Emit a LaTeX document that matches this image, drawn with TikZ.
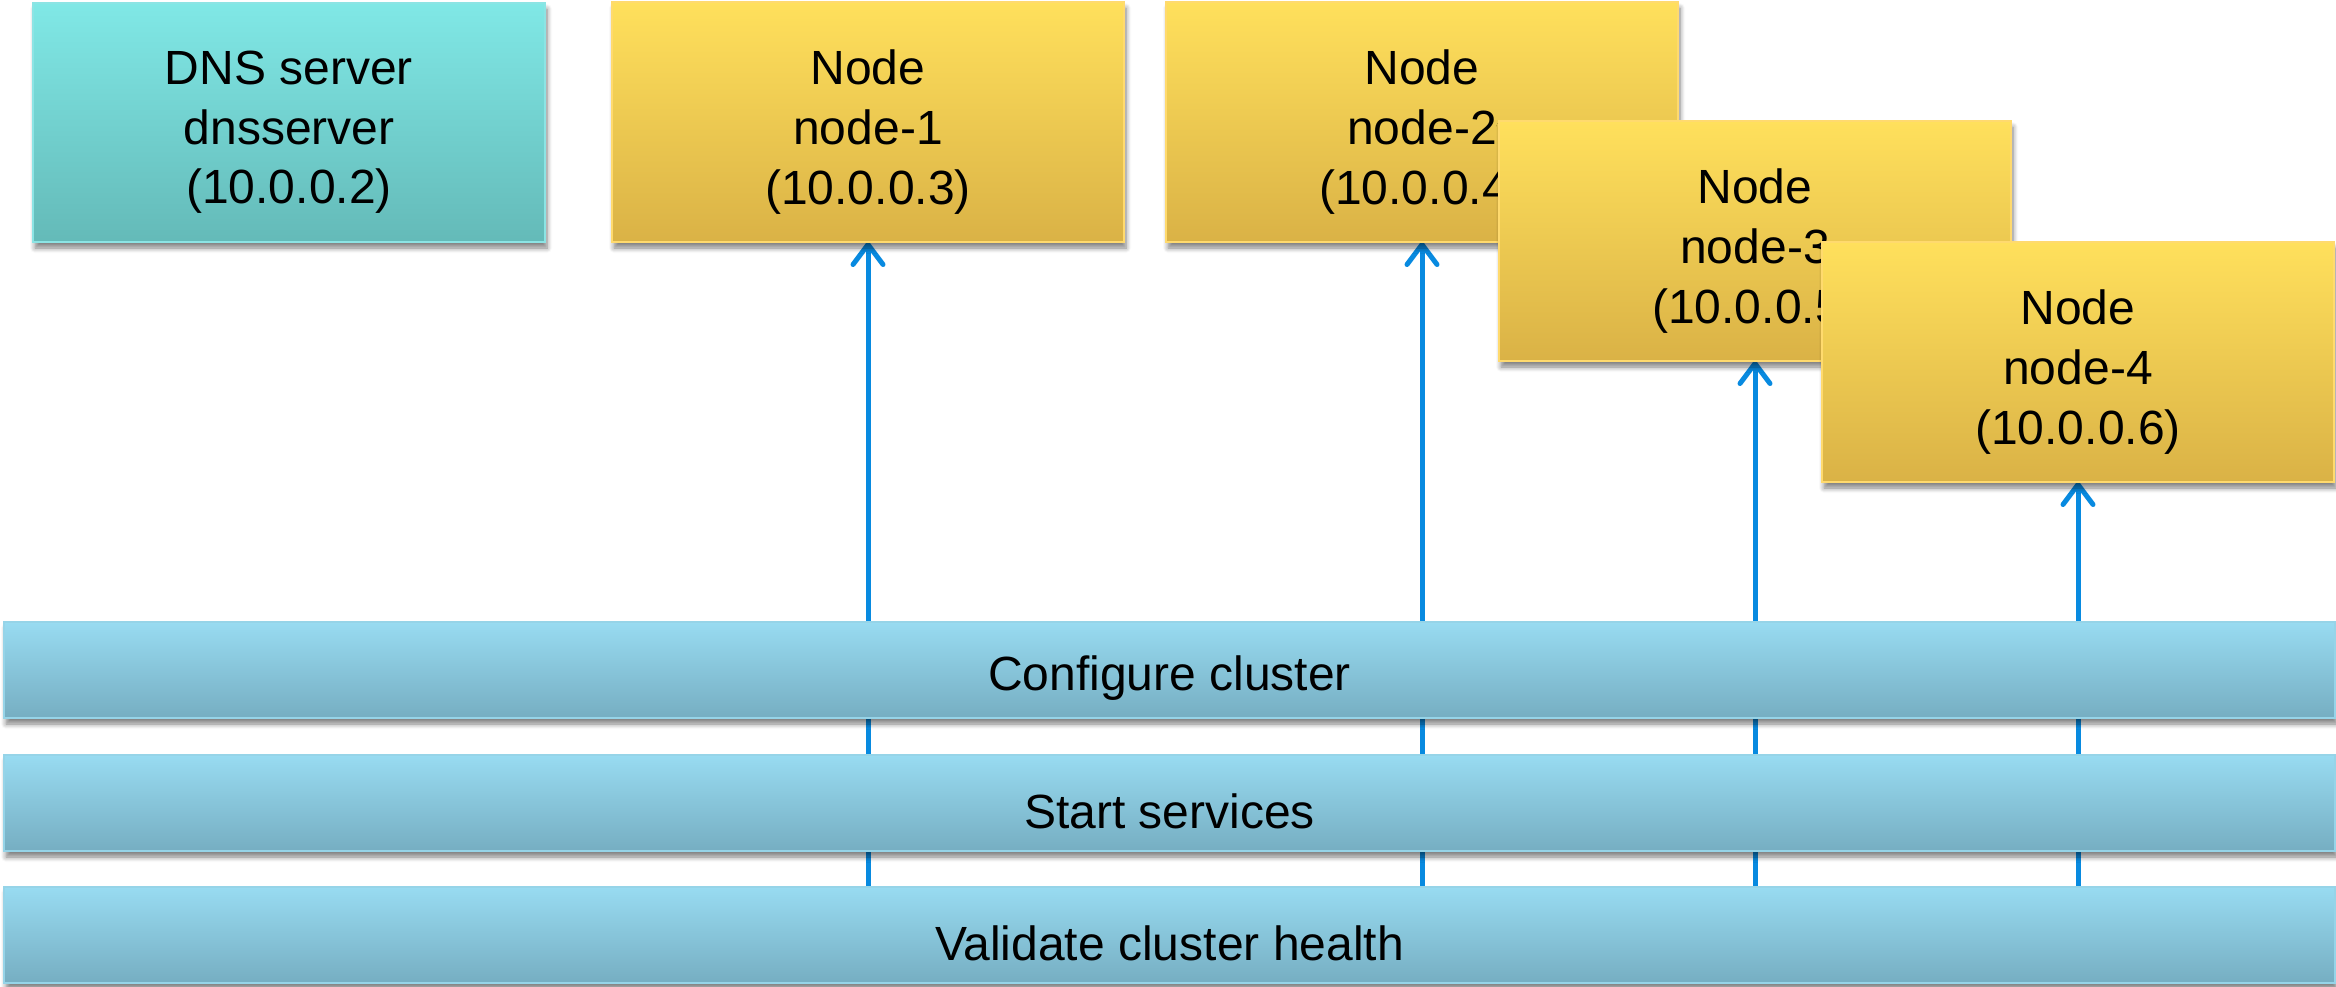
\documentclass[tikz,border=0pt]{standalone}
\usepackage{fontspec}
\setmainfont{Liberation Sans}
\usetikzlibrary{arrows.meta,shadows.blur,backgrounds}

\definecolor{dnsTop}{RGB}{128,232,230}
\definecolor{dnsBot}{RGB}{100,186,184}
\definecolor{dnsEdge}{RGB}{140,228,228}
\definecolor{hostTop}{RGB}{255,224,92}
\definecolor{hostBot}{RGB}{218,178,70}
\definecolor{hostEdge}{RGB}{255,218,110}
\definecolor{barTop}{RGB}{152,219,241}
\definecolor{barBot}{RGB}{118,174,194}
\definecolor{barEdge}{RGB}{150,212,232}
\definecolor{flow}{RGB}{8,138,224}

\tikzset{
  boxbase/.style={anchor=north west, inner sep=0pt, outer sep=0pt,
    line width=1pt,
    blur shadow={shadow xshift=1pt, shadow yshift=-3pt,
      shadow blur radius=2.5pt, shadow blur steps=6, shadow opacity=50}},
  caption/.style={font=\fontsize{24}{29.8}\selectfont, align=center,
    inner sep=0pt},
  dnsbox/.style={boxbase, draw=dnsEdge, top color=dnsTop, bottom color=dnsBot,
    minimum width=256pt, minimum height=119.5pt},
  hostbox/.style={boxbase, draw=hostEdge, top color=hostTop, bottom color=hostBot,
    minimum width=256pt, minimum height=120pt},
  stagebar/.style={boxbase, draw=barEdge, top color=barTop, bottom color=barBot,
    minimum width=1165.5pt, minimum height=48pt},
  boxtext/.style={label={[caption, yshift=-5pt]center:{#1}}},
  bartext/.style={label={[caption, yshift=-4.2pt]center:{#1}}},
  flowarrow/.style={draw=flow, line width=2.5pt,
    -{Straight Barb[length=10pt,width=15pt,round]}}
}

\begin{document}
\begin{tikzpicture}[x=0.5pt, y=-0.5pt]
  \useasboundingbox (0,0) rectangle (2336,986);

  % servers
  \node[dnsbox,  boxtext={DNS server\\dnsserver\\(10.0.0.2)}] (dns) at (33,3) {};
  \node[hostbox, boxtext={Node\\node-1\\(10.0.0.3)}] (n1) at (612,2) {};
  \node[hostbox, boxtext={Node\\node-2\\(10.0.0.4)}] (n2) at (1166,2) {};
  \node[hostbox, boxtext={Node\\node-3\\(10.0.0.5)}] (n3) at (1499,121) {};
  \node[hostbox, boxtext={Node\\node-4\\(10.0.0.6)}] (n4) at (1822,242) {};

  % deployment stages
  \node[stagebar, bartext={Configure cluster}]       (cfg)   at (4,622) {};
  \node[stagebar, bartext={Start services}]          (start) at (4,755) {};
  \node[stagebar, bartext={Validate cluster health}] (check) at (4,887) {};

  % arrows run behind the stage bars
  \begin{pgfonlayer}{background}
    \foreach \n in {n1,n2,n3,n4}
      \draw[flowarrow] (check.north -| \n.south) -- (\n.south);
  \end{pgfonlayer}
\end{tikzpicture}
\end{document}
